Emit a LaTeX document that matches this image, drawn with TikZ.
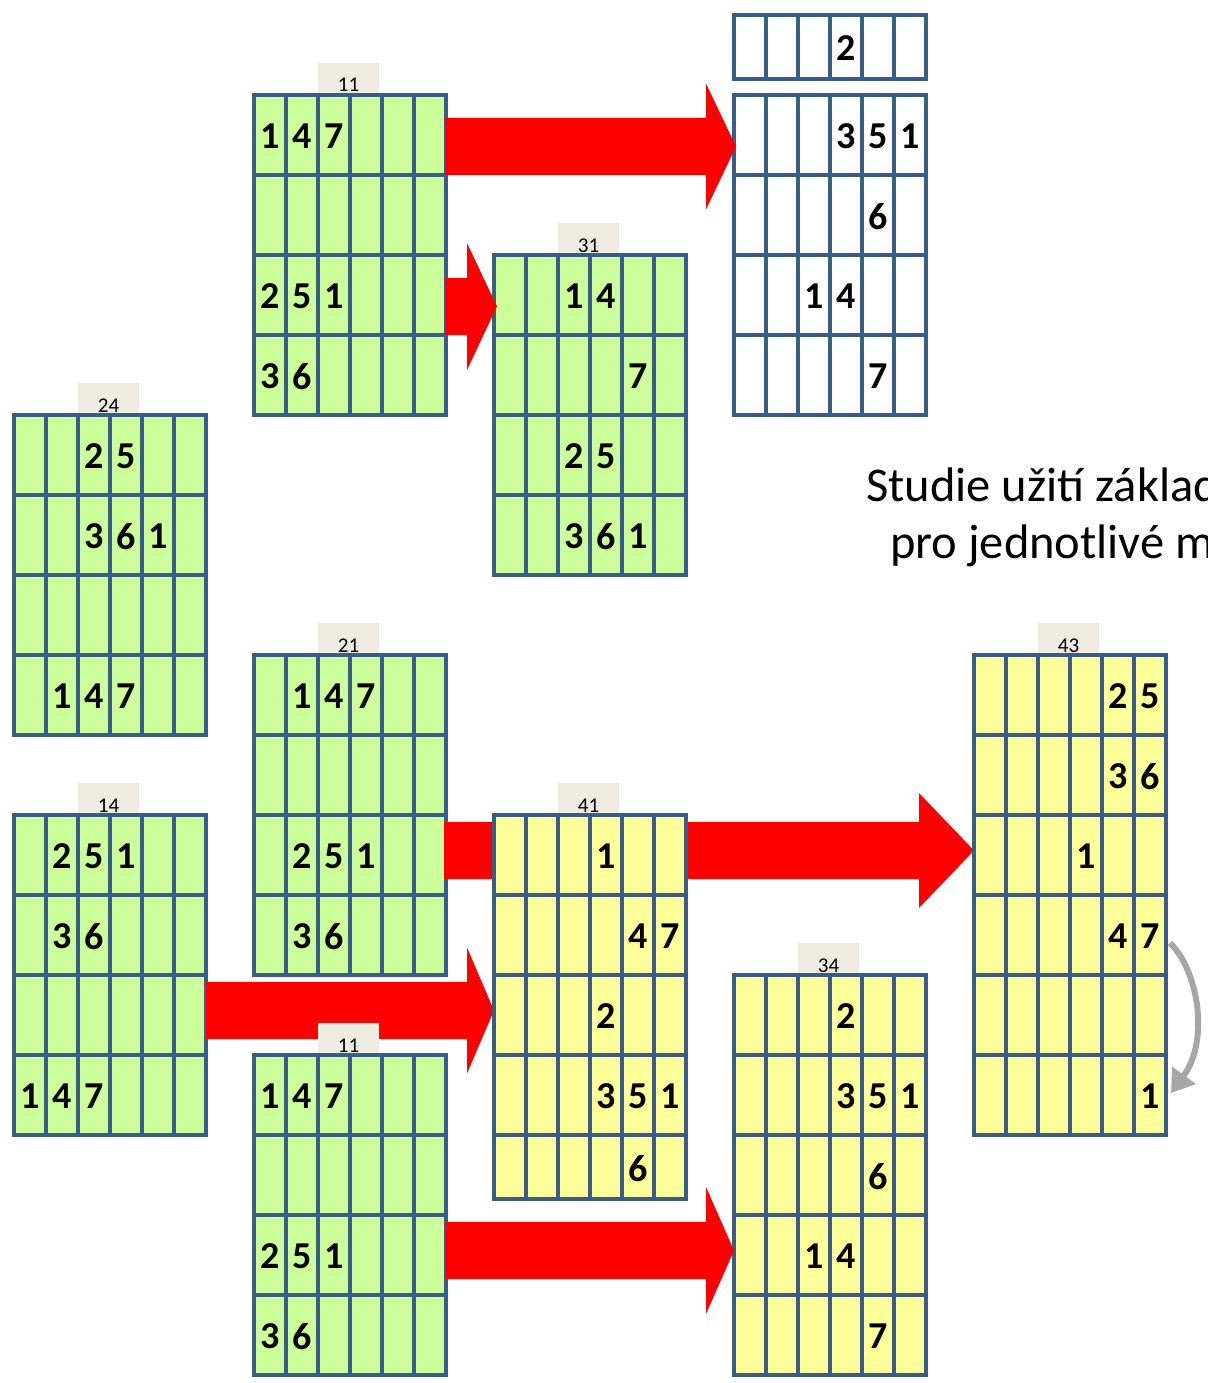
\documentclass[tikz,border=0pt]{standalone}
\usepackage{fontspec}
\setmainfont{Carlito}
\usetikzlibrary{arrows.meta}
\definecolor{gfill}{HTML}{CCFF99}
\definecolor{yfill}{HTML}{FFFF99}
\definecolor{gline}{HTML}{385D8A}
\definecolor{tabc}{HTML}{EEECE1}
\definecolor{redc}{HTML}{FF0000}
\definecolor{grayarr}{HTML}{A6A6A6}
\tikzset{
  gbox/.style={rectangle, draw=gline, line width=3.4pt, inner sep=0pt, outer sep=0pt, minimum width=192pt},
  gl/.style={draw=gline, line width=3.4pt},
  digit/.style={font=\bfseries\fontsize{38}{38}\selectfont, inner sep=0pt},
  tabbox/.style={rectangle, fill=tabc, minimum width=61pt, minimum height=32pt, inner sep=0pt, outer sep=0pt},
  tablabel/.style={font=\fontsize{21}{21}\selectfont, inner sep=0pt, anchor=base},
  redarrow/.style={fill=redc},
  bigtext/.style={font=\fontsize{48.5}{58}\selectfont, inner sep=0pt, anchor=base west},
  curvearrow/.style={draw=grayarr, line width=6pt, -{Triangle[length=22pt,width=28pt]}}
}
% #1 name, #2 x0, #3 y0, #4 height, #5 horizontal line offsets, #6 fill, #7 cells c/y/t
\newcommand{\mkgrid}[7]{%
  \node[gbox, fill=#6, minimum height=#4pt, anchor=north west] (#1) at (#2,#3) {};
  \foreach \k in {1,...,5} \draw[gl] (#2+32*\k,#3) -- (#2+32*\k,#3+#4);
  \foreach \h in {#5} \draw[gl] (#2,#3+\h) -- (#2+192,#3+\h);
  \draw[gl] (#2,#3) rectangle (#2+192,#3+#4);
  \foreach \c/\y/\t in {#7} \node[digit] (#1-\c-\y) at (#2+32*\c-16,#3+\y+1.5) {\t};
}
% #1 name, #2 x0, #3 y0, #4 label
\newcommand{\mktab}[4]{%
  \node[tabbox, anchor=south west] (#1) at (#2+64,#3) {};
  \node[tablabel] (#1-l) at (#2+94.5,#3-3) {#4};
}
% #1 x1, #2 x2, #3 yc, #4 shaft half, #5 head half, #6 head length
\newcommand{\blockarrow}[6]{%
  \fill[redarrow] (#1,#3-#4) -- (#2-#6,#3-#4) -- (#2-#6,#3-#5) -- (#2,#3) -- (#2-#6,#3+#5) -- (#2-#6,#3+#4) -- (#1,#3+#4) -- cycle;
}
\begin{document}
\begin{tikzpicture}[x=1pt,y=-1pt]
\useasboundingbox (0,0) rectangle (1207,1383);
\fill[white] (0,0) rectangle (1207,1383);

% top 11
\mktab{tab11a}{254}{95}{11}
\mkgrid{g11a}{254}{95}{320}{80,160,240}{gfill}{1/40/1,2/40/4,3/40/7,1/200/2,2/200/5,3/200/1,1/280/3,2/280/6}
% blue small
\mkgrid{gbs}{734}{15}{64}{0}{white}{4/32/2}
% blue main
\mkgrid{gbm}{734}{95}{320}{80,160,240}{white}{4/40/3,5/40/5,6/40/1,5/120/6,3/200/1,4/200/4,5/280/7}
% 31
\mktab{tab31}{494}{255}{31}
\mkgrid{g31}{494}{255}{320}{80,160,240}{gfill}{3/40/1,4/40/4,5/120/7,3/200/2,4/200/5,3/280/3,4/280/6,5/280/1}
% 24
\mktab{tab24}{14}{415}{24}
\mkgrid{g24}{14}{415}{320}{80,160,240}{gfill}{3/40/2,4/40/5,3/120/3,4/120/6,5/120/1,2/280/1,3/280/4,4/280/7}
% 21
\mktab{tab21}{254}{655}{21}
\mkgrid{g21}{254}{655}{320}{80,160,240}{gfill}{2/40/1,3/40/4,4/40/7,2/200/2,3/200/5,4/200/1,2/280/3,3/280/6}
% 14
\mktab{tab14}{14}{815}{14}
\mkgrid{g14}{14}{815}{320}{80,160,240}{gfill}{2/40/2,3/40/5,4/40/1,2/120/3,3/120/6,1/280/1,2/280/4,3/280/7}

% arrows passing under later grids
\blockarrow{444}{974}{850.5}{28.5}{57.5}{55}
\blockarrow{206}{494}{1010.5}{28.5}{63}{27}

% 41
\mktab{tab41}{494}{815}{41}
\mkgrid{g41}{494}{815}{384}{80,160,240,320}{yfill}{4/40/1,5/120/4,6/120/7,4/200/2,4/280/3,5/280/5,6/280/1,5/352/6}
% 43
\mktab{tab43}{974}{655}{43}
\mkgrid{g43}{974}{655}{480}{80,160,240,320,400}{yfill}{5/40/2,6/40/5,5/120/3,6/120/6,4/200/1,5/280/4,6/280/7,6/440/1}
% bottom 11
\mktab{tab11b}{254}{1055}{11}
\mkgrid{g11b}{254}{1055}{320}{80,160,240}{gfill}{1/40/1,2/40/4,3/40/7,1/200/2,2/200/5,3/200/1,1/280/3,2/280/6}
% 34
\mktab{tab34}{734}{975}{34}
\mkgrid{g34}{734}{975}{400}{80,160,240,320}{yfill}{4/40/2,4/120/3,5/120/5,6/120/1,5/200/6,3/280/1,4/280/4,5/360/7}

% arrows on top
\blockarrow{445}{736}{146.5}{28.5}{63}{30}
\blockarrow{445}{497}{306.5}{28.5}{63.5}{30}
\blockarrow{445}{734}{1250.5}{28.5}{63.5}{28}

% curved gray arrow
\coordinate (ca1) at (1170,943);
\coordinate (ca2) at (1171,1093);
\draw[curvearrow] (ca1) .. controls (1198,970) and (1210,1040) .. (ca2);

% text (cut off at the right edge, as in the reference)
\begin{scope}
\clip (0,0) rectangle (1207,1383);
\node[bigtext] (t1) at (866,501) {Studie užití základ};
\node[bigtext] (t2) at (890,558) {pro jednotlivé m};
\end{scope}
\end{tikzpicture}
\end{document}
